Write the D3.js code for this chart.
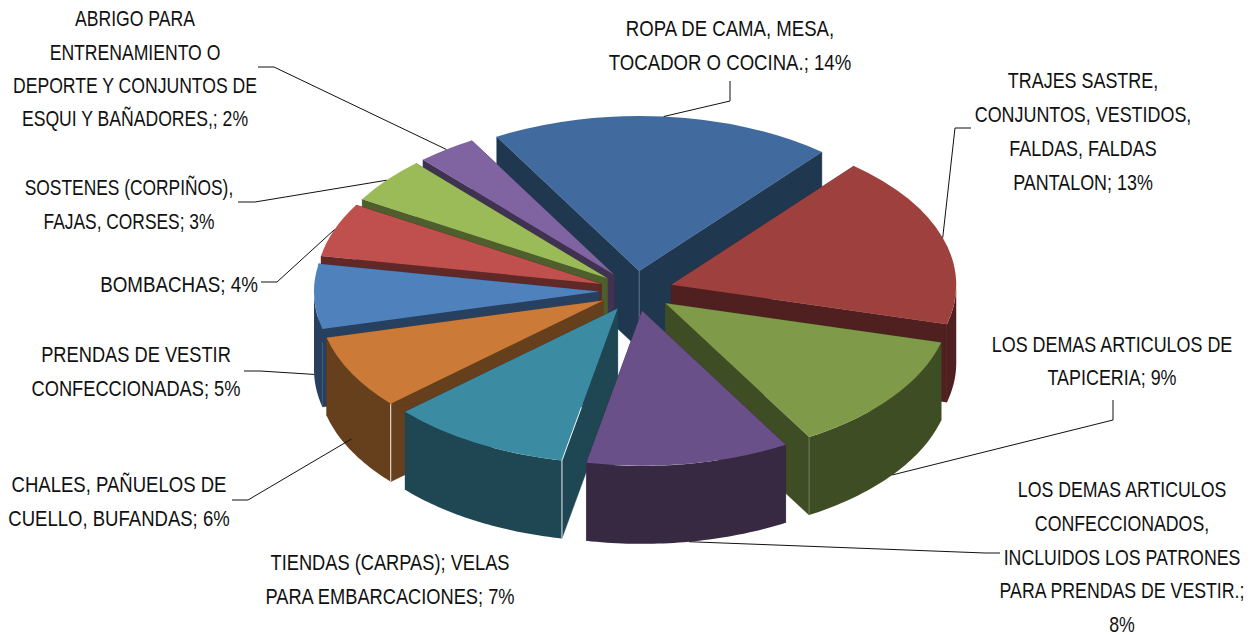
<!DOCTYPE html>
<html><head><meta charset="utf-8">
<script src="https://d3js.org/d3.v7.min.js"></script>
<style>html,body{margin:0;padding:0;background:#fff}svg{display:block}
text{font-family:"Liberation Sans",sans-serif;font-size:22px;fill:#111;text-anchor:middle}</style>
</head><body><svg id="c" width="1260" height="635"></svg>
<script>
const categories = [
 ["ROPA DE CAMA, MESA,","TOCADOR O COCINA.; 14%"],
 ["TRAJES SASTRE,","CONJUNTOS, VESTIDOS,","FALDAS, FALDAS","PANTALON; 13%"],
 ["LOS DEMAS ARTICULOS DE","TAPICERIA; 9%"],
 ["LOS DEMAS ARTICULOS","CONFECCIONADOS,","INCLUIDOS LOS PATRONES","PARA PRENDAS DE VESTIR.;","8%"],
 ["TIENDAS (CARPAS); VELAS","PARA EMBARCACIONES; 7%"],
 ["CHALES, PAÑUELOS DE","CUELLO, BUFANDAS; 6%"],
 ["PRENDAS DE VESTIR","CONFECCIONADAS; 5%"],
 ["BOMBACHAS; 4%"],
 ["SOSTENES (CORPIÑOS),","FAJAS, CORSES; 3%"],
 ["ABRIGO PARA","ENTRENAMIENTO O","DEPORTE Y CONJUNTOS DE","ESQUI Y BAÑADORES,; 2%"]
];
const values = [13.8,12.8,8.9,8.2,7.3,5.5,4.8,4.0,3.4,2.4];
const topColors  = ["#416B9E","#9E413E","#7F9A48","#6A5088","#3B8CA3","#CB7A37","#4F81BD","#C0504D","#9BBB59","#8064A2"];
const sideColors = ["#203750","#4F201F","#3F4D24","#372942","#1F4653","#663F1C","#28405F","#602826","#4E5E2D","#403251"];

// layout (not data)
const cx=636, cy=291, rx=285, tilt=155/285, depth=78, explode=37;
const labelX=[730,1083,1112,1122,390,119,136,179,129,135];
const labelSquash=[.845,.815,.815,.806,.83,.843,.83,.855,.79,.8];
const labelY=[[28,62],[80,114,148,182],[344,377],[489,523,557,590,624],[562,596],[484,518],[354,388],[284],[187,221],[18,52,85,118]];
// leader: [label end x, elbow x, elbow y, wall drop fraction, optional label end y]; null = no leader
const leaders=[[730,730,101,0,81],[971,955,128,0],[1113,1113,420,1,400],[1000,985,553,1],null,[232,248,500,.85],[244,260,371,1],[261,277,282,0],[238,255,202,0],[258,274,67,0]];
const edgeGlow={2:.25,4:.9,5:.9};

const svg=d3.select("#c");
const pie=d3.pie().sort(null).startAngle(-30*Math.PI/180).endAngle(330*Math.PI/180);
const slices=pie(values).map((d,i)=>{
  const mid=(d.startAngle+d.endAngle)/2;
  return {...d,i,mid,ox:cx+explode*Math.sin(mid),oy:cy-explode*tilt*Math.cos(mid)};
});
const rim=(s,a)=>[s.ox+rx*Math.sin(a),s.oy-rx*tilt*Math.cos(a)];
const arc=d3.arc().innerRadius(0).outerRadius(rx);
const line=d3.line();
const poly=pts=>line(pts)+"Z";

slices.slice().sort((a,b)=>Math.cos(b.mid)-Math.cos(a.mid)).forEach(s=>{
  const g=svg.append("g");
  const side=sideColors[s.i], apex=[s.ox,s.oy];
  [s.startAngle,s.endAngle].forEach(a=>{
    const p=rim(s,a);
    g.append("path").attr("d",poly([apex,p,[p[0],p[1]+depth],[apex[0],apex[1]+depth]])).attr("fill",side).attr("stroke",side).attr("stroke-width",.4);
  });
  const a0=Math.max(s.startAngle,Math.PI/2), a1=Math.min(s.endAngle,1.5*Math.PI);
  if(a1>a0){
    const angs=d3.range(0,41).map(k=>a0+(a1-a0)*k/40);
    const up=angs.map(a=>rim(s,a));
    const low=up.slice().reverse().map(p=>[p[0],p[1]+depth]);
    g.append("path").attr("d",poly(up.concat(low))).attr("fill",side);
  }
  g.append("path").attr("d",arc(s)).attr("fill",topColors[s.i])
    .attr("transform",`translate(${s.ox},${s.oy}) scale(1,${tilt})`);
  if(edgeGlow[s.i]){
    const a=s.i===2?s.endAngle:s.startAngle, p=rim(s,a);
    const pts=[[p[0],p[1]+depth],p];
    if(s.i===4) pts.push([p[0]+(apex[0]-p[0])*.35,p[1]+(apex[1]-p[1])*.35]);
    g.append("path").attr("d",line(pts)).attr("fill","none")
      .attr("stroke","#fff").attr("stroke-opacity",edgeGlow[s.i]).attr("stroke-width",1);
  }
  if(s.i===0){
    g.append("line").attr("x1",apex[0]).attr("y1",apex[1]).attr("x2",apex[0]).attr("y2",apex[1]+depth)
      .attr("stroke","#5f7f9f").attr("stroke-width",.8);
  }
});

// leaders
leaders.forEach((l,i)=>{
  if(!l) return;
  const s=slices[i], p=rim(s,s.mid);
  const end=[p[0],p[1]+depth*l[3]];
  const startY=l[4]!==undefined?l[4]:l[2];
  svg.append("path").attr("d",line([[l[0],startY],[l[1],l[2]],end]))
    .attr("fill","none").attr("stroke","#111").attr("stroke-width",1);
});
// labels
categories.forEach((lines,i)=>{
  lines.forEach((t,j)=>{
    svg.append("text").attr("transform",`translate(${labelX[i]},${labelY[i][j]+8}) scale(${labelSquash[i]},1)`).text(t);
  });
});
</script></body></html>
